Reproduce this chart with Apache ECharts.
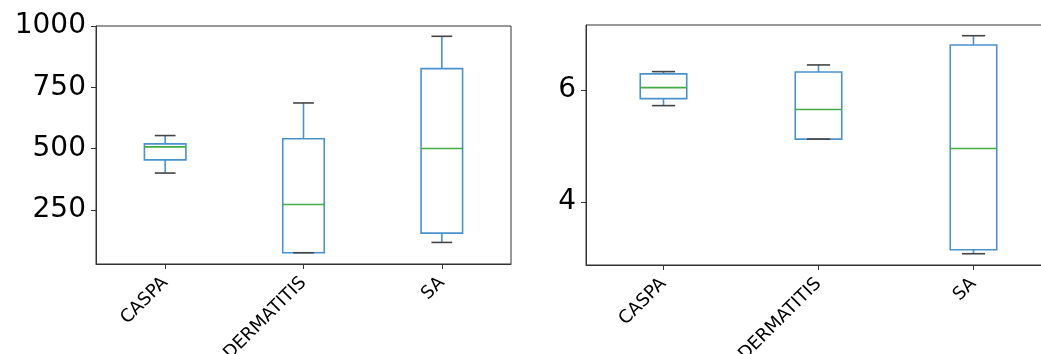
<!DOCTYPE html>
<html>
<head>
<meta charset="utf-8">
<script src="https://cdn.jsdelivr.net/npm/echarts@6/dist/echarts.min.js"></script>
<style>
html,body{margin:0;padding:0;background:#fff;}
#chart{width:1041px;height:354px;}
</style>
</head>
<body>
<div id="chart"></div>
<script>
const categories = ['CASPA', 'DERMATITIS', 'SA'];

// Left panel: [min whisker, Q1, median, Q3, max whisker]
const leftLow    = [400, 75, 117];
const leftQ1     = [454, 75, 155];
const leftMedian = [507, 272, 500];
const leftQ3     = [519, 540, 826];
const leftHigh   = [553, 686, 958];
const leftTicks  = [250, 500, 750, 1000];

// Right panel
const rightLow    = [5.72, 5.123, 3.08];
const rightQ1     = [5.845, 5.123, 3.151];
const rightMedian = [6.041, 5.65, 4.956];
const rightQ3     = [6.285, 6.32, 6.80];
const rightHigh   = [6.326, 6.445, 6.966];
const rightTicks  = [4, 6];

const BOX = '#4a92cc', MED = '#42ab42', CAP = '#444444', SPINE = '#333333';
const FONT = 'DejaVu Sans';

function rows(lo, q1, md, q3, hi) {
  return categories.map((c, i) => [i, lo[i], q1[i], md[i], q3[i], hi[i]]);
}

function renderBox(params, api) {
  const idx = api.value(0);
  const band = api.size([1, 0])[0];
  const bw = band * 0.3;
  const cw = bw * 0.5;
  const pLo = api.coord([idx, api.value(1)]);
  const pQ1 = api.coord([idx, api.value(2)]);
  const pMd = api.coord([idx, api.value(3)]);
  const pQ3 = api.coord([idx, api.value(4)]);
  const pHi = api.coord([idx, api.value(5)]);
  const x = pMd[0];
  const ls = {stroke: BOX, lineWidth: 1.6, fill: null};
  return {
    type: 'group',
    children: [
      {type: 'line', shape: {x1: x, y1: pQ1[1], x2: x, y2: pLo[1]}, style: ls},
      {type: 'line', shape: {x1: x, y1: pQ3[1], x2: x, y2: pHi[1]}, style: ls},
      {type: 'rect', shape: {x: x - bw / 2, y: pQ3[1], width: bw, height: pQ1[1] - pQ3[1]}, style: {stroke: BOX, lineWidth: 1.6, fill: 'rgba(0,0,0,0)'}},
      {type: 'line', shape: {x1: x - cw / 2, y1: pLo[1], x2: x + cw / 2, y2: pLo[1]}, style: {stroke: CAP, lineWidth: 1.6}},
      {type: 'line', shape: {x1: x - cw / 2, y1: pHi[1], x2: x + cw / 2, y2: pHi[1]}, style: {stroke: CAP, lineWidth: 1.6}},
      {type: 'line', shape: {x1: x - bw / 2, y1: pMd[1], x2: x + bw / 2, y2: pMd[1]}, style: {stroke: MED, lineWidth: 1.6}}
    ]
  };
}

function xAxis(gridIndex) {
  return {
    type: 'category', gridIndex, data: categories, boundaryGap: true,
    axisLine: {show: true, lineStyle: {color: SPINE, width: 1}},
    axisTick: {show: true, alignWithLabel: true, length: 5, lineStyle: {color: SPINE}},
    axisLabel: {rotate: 45, interval: 0, fontFamily: FONT, fontSize: 18, color: '#000', margin: 16},
    splitLine: {show: false}
  };
}
function yAxis(gridIndex, min, max, ticks) {
  return {
    type: 'value', gridIndex, min, max,
    axisLine: {show: true, lineStyle: {color: SPINE, width: 1}},
    axisTick: {show: true, length: 5, lineStyle: {color: SPINE}, customValues: ticks},
    axisLabel: {fontFamily: FONT, fontSize: 28, color: '#000', margin: 10, customValues: ticks,
                formatter: v => String(v)},
    splitLine: {show: false}
  };
}

const chart = echarts.init(document.getElementById('chart'));
chart.setOption({
  animation: false,
  backgroundColor: '#fff',
  grid: [
    {left: 96, right: 530, top: 26, bottom: 90, containLabel: false, outerBoundsMode: 'none',
     show: true, borderColor: SPINE, borderWidth: 1, backgroundColor: 'transparent'},
    {left: 586, right: -10, top: 25, bottom: 89, containLabel: false, outerBoundsMode: 'none',
     show: true, borderColor: SPINE, borderWidth: 1, backgroundColor: 'transparent'}
  ],
  xAxis: [xAxis(0), xAxis(1)],
  yAxis: [yAxis(0, 29, 1000, leftTicks), yAxis(1, 2.879, 7.157, rightTicks)],
  series: [
    {type: 'custom', xAxisIndex: 0, yAxisIndex: 0, renderItem: renderBox,
     encode: {x: 0, y: [1, 2, 3, 4, 5]}, data: rows(leftLow, leftQ1, leftMedian, leftQ3, leftHigh)},
    {type: 'custom', xAxisIndex: 1, yAxisIndex: 1, renderItem: renderBox,
     encode: {x: 0, y: [1, 2, 3, 4, 5]}, data: rows(rightLow, rightQ1, rightMedian, rightQ3, rightHigh)}
  ]
});
</script>
</body>
</html>
